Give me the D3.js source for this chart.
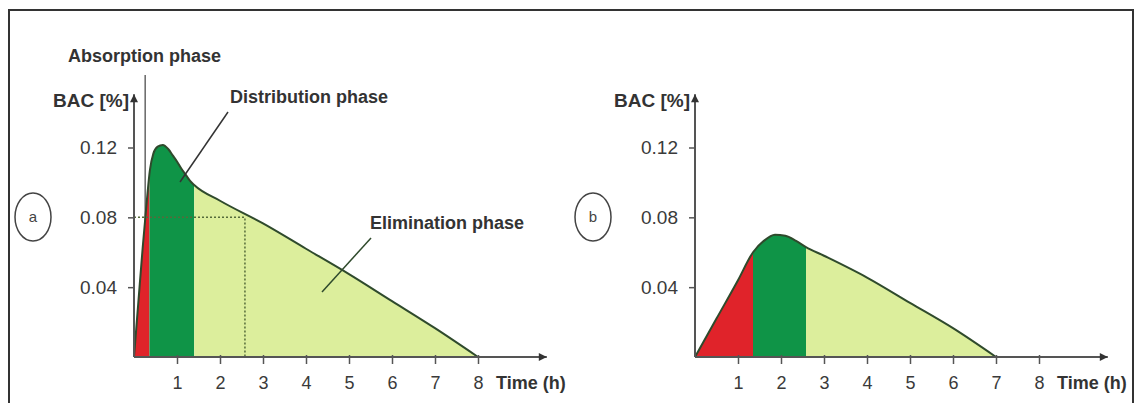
<!DOCTYPE html>
<html>
<head>
<meta charset="utf-8">
<script src="https://cdn.jsdelivr.net/npm/d3@7"></script>
<style>
  html, body { margin: 0; padding: 0; background: #fff; }
  svg { display: block; }
  text { font-family: "Liberation Sans", Arial, sans-serif; }
</style>
</head>
<body>
<svg id="chart" width="1140" height="403"></svg>
<script>
// ---- data ----
const timesA = [0, 0.1, 0.2, 0.3, 0.37, 0.45, 0.55, 0.67, 0.8, 0.9, 1.0, 1.1, 1.2, 1.3, 1.4, 2, 3, 4, 5, 6, 7, 8];
const bacA   = [0, 0.031, 0.062, 0.090, 0.107, 0.1165, 0.1205, 0.1215, 0.119, 0.1155, 0.112, 0.108, 0.1045, 0.101, 0.0985, 0.0895, 0.0765, 0.062, 0.0475, 0.032, 0.0165, 0];
const timesB = [0, 0.5, 1.0, 1.35, 1.6, 1.86, 2.1, 2.35, 2.58, 3, 4, 5, 6, 7];
const bacB   = [0, 0.022, 0.044, 0.060, 0.0665, 0.070, 0.0695, 0.0665, 0.063, 0.058, 0.0455, 0.031, 0.0165, 0];
// phase boundaries [absorption end, distribution end, elimination end] in hours
const phasesA = [0.36, 1.4, 8];
const phasesB = [1.35, 2.58, 7];
const xTicks = [1, 2, 3, 4, 5, 6, 7, 8];
const yTicks = [0.04, 0.08, 0.12];
const yTickLabels = ["0.04", "0.08", "0.12"];
const markA = { t: 2.58, bac: 0.08 };
const phaseLabels = ["Absorption phase", "Distribution phase", "Elimination phase"];
const panelLetters = ["a", "b"];

// ---- drawing ----
const svg = d3.select("#chart");
const font = '"Liberation Sans", Arial, sans-serif';
const phaseColors = ["#e0232a", "#0f9447", "#dcee9c"];
const curveColor = "#2f4a2c";
const axisColor = "#555";

// frame
svg.append("rect").attr("x", 9).attr("y", 10).attr("width", 1124).attr("height", 420)
  .attr("fill", "none").attr("stroke", "#333").attr("stroke-width", 2);

const y = d3.scaleLinear().domain([0, 0.12]).range([357, 147.5]);

const defs = svg.append("defs");
defs.append("marker").attr("id", "arrow").attr("viewBox", "0 0 10 10")
  .attr("refX", 10).attr("refY", 5).attr("markerWidth", 11).attr("markerHeight", 8)
  .attr("markerUnits", "userSpaceOnUse").attr("orient", "auto")
  .append("path").attr("d", "M0,0 L10,5 L0,10 Z").attr("fill", "#333");

function panel(id, x0, times, bac, phases, letter, letterX) {
  const x = d3.scaleLinear().domain([0, 8]).range([x0, x0 + 344]);
  const g = svg.append("g");
  const pts = times.map((t, i) => [t, bac[i]]);

  // absorption guide line (panel a only)
  if (id === "a") {
    g.append("line").attr("x1", x(0.26)).attr("x2", x(0.26))
      .attr("y1", 75).attr("y2", y(0))
      .attr("stroke", "#666").attr("stroke-width", 1.5);
  }

  const area = d3.area().x(d => x(d[0])).y0(y(0)).y1(d => y(d[1])).curve(d3.curveMonotoneX);
  const bounds = [0].concat(phases);
  for (let i = 0; i < 3; i++) {
    const cid = "clip-" + id + i;
    defs.append("clipPath").attr("id", cid).append("rect")
      .attr("x", x(bounds[i])).attr("y", 0)
      .attr("width", x(bounds[i + 1]) - x(bounds[i])).attr("height", 403);
    g.append("path").datum(pts).attr("d", area).attr("fill", phaseColors[i])
      .attr("clip-path", "url(#" + cid + ")");
  }
  const line = d3.line().x(d => x(d[0])).y(d => y(d[1])).curve(d3.curveMonotoneX);
  g.append("path").datum(pts).attr("d", line).attr("fill", "none")
    .attr("stroke", curveColor).attr("stroke-width", 2);

  // dotted reference lines (panel a)
  if (id === "a") {
    g.append("path")
      .attr("d", `M${x(0)},${y(markA.bac)} H${x(markA.t)} V${y(0)}`)
      .attr("fill", "none").attr("stroke", "#556b3a").attr("stroke-width", 1.5)
      .attr("stroke-dasharray", "2,2");
  }

  // axes
  const xa = g.append("g").attr("transform", `translate(0,${y(0)})`)
    .call(d3.axisBottom(x).tickValues(xTicks).tickFormat(d3.format("d")).tickSize(7).tickPadding(12));
  xa.select(".domain").remove();
  xa.selectAll("line").attr("stroke", axisColor).attr("stroke-width", 1.5).attr("y1", -2);
  xa.selectAll("text").attr("font-size", 18).attr("font-family", font).attr("fill", "#3a3a3a");

  const ya = g.append("g").attr("transform", `translate(${x(0)},0)`)
    .call(d3.axisLeft(y).tickValues(yTicks).tickFormat((d, i) => yTickLabels[i]).tickSize(6).tickPadding(11));
  ya.select(".domain").remove();
  ya.selectAll("line").attr("stroke", axisColor).attr("stroke-width", 1.5);
  ya.selectAll("text").attr("font-size", 19).attr("font-family", font).attr("fill", "#3a3a3a");

  g.append("line").attr("x1", x(0)).attr("x2", x(9.6)).attr("y1", y(0)).attr("y2", y(0))
    .attr("stroke", axisColor).attr("stroke-width", 2).attr("marker-end", "url(#arrow)");
  g.append("line").attr("x1", x(0)).attr("x2", x(0)).attr("y1", y(0)).attr("y2", y(0.1505))
    .attr("stroke", axisColor).attr("stroke-width", 2).attr("marker-end", "url(#arrow)");

  g.append("text").attr("x", x(8) + 18).attr("y", 389).attr("font-size", 18)
    .attr("font-weight", "bold").attr("fill", "#333").text("Time (h)");
  g.append("text").attr("x", x(0) - 5).attr("y", 107).attr("text-anchor", "end")
    .attr("font-size", 19).attr("font-weight", "bold").attr("fill", "#333").text("BAC [%]");

  // panel letter
  g.append("ellipse").attr("cx", letterX).attr("cy", 217).attr("rx", 18).attr("ry", 24)
    .attr("fill", "none").attr("stroke", "#444").attr("stroke-width", 1.5);
  g.append("text").attr("x", letterX).attr("y", 222).attr("text-anchor", "middle")
    .attr("font-size", 15).attr("fill", "#444").text(letter);
  return { x, g };
}

const pa = panel("a", 134, timesA, bacA, phasesA, panelLetters[0], 33);
panel("b", 695, timesB, bacB, phasesB, panelLetters[1], 593);

// phase annotations on panel a
const ga = pa.g;
ga.append("text").attr("x", 68).attr("y", 62).attr("font-size", 18).attr("font-weight", "bold")
  .attr("fill", "#333").text(phaseLabels[0]);
ga.append("text").attr("x", 230).attr("y", 103).attr("font-size", 18).attr("font-weight", "bold")
  .attr("fill", "#333").text(phaseLabels[1]);
ga.append("text").attr("x", 370).attr("y", 229).attr("font-size", 18).attr("font-weight", "bold")
  .attr("fill", "#333").text(phaseLabels[2]);
ga.append("line").attr("x1", 228).attr("y1", 112).attr("x2", 180).attr("y2", 182)
  .attr("stroke", "#333").attr("stroke-width", 1.5);
ga.append("line").attr("x1", 371).attr("y1", 238).attr("x2", 322).attr("y2", 292)
  .attr("stroke", "#2f4a2c").attr("stroke-width", 1.5);
</script>
</body>
</html>
